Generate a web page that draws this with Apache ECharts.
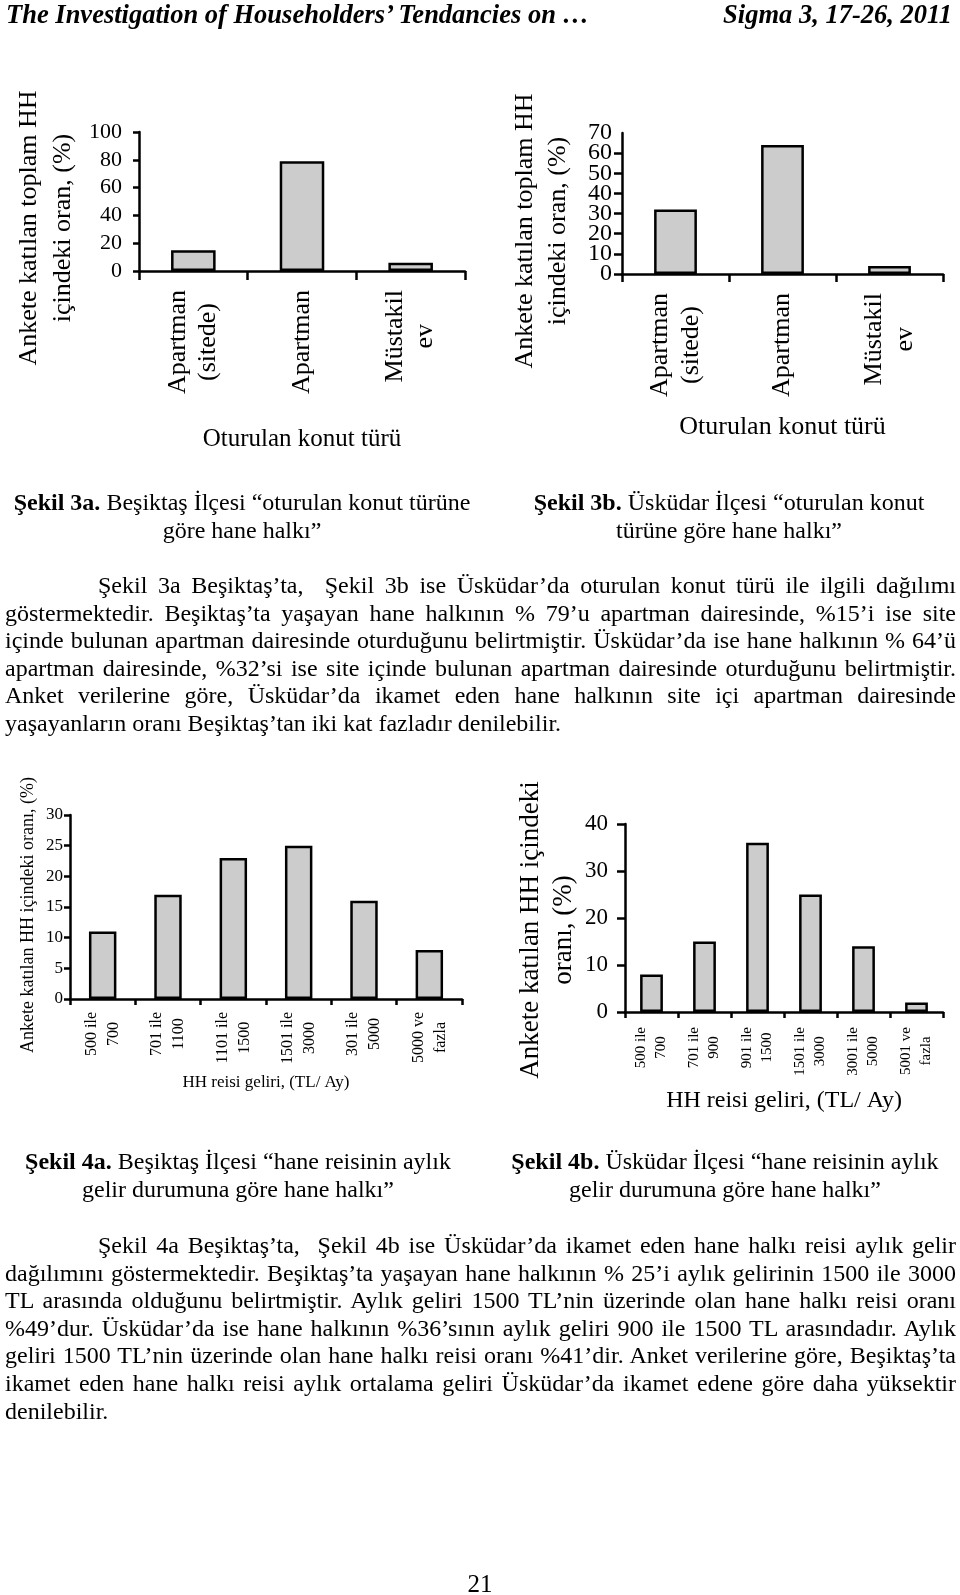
<!DOCTYPE html>
<html>
<head>
<meta charset="utf-8">
<script src="https://cdn.jsdelivr.net/npm/echarts@6.0.0/dist/echarts.min.js"></script>
<style>
  html, body { margin:0; padding:0; background:#fff; }
  body { width:960px; height:1595px; position:relative; overflow:hidden; font-family:'Liberation Serif','Times New Roman',serif; color:#000; }
  #chart { position:absolute; left:0; top:0; width:960px; height:1595px; }
  .hdr { position:absolute; top:1px; font-size:26.5px; line-height:26px; font-weight:bold; font-style:italic; white-space:nowrap; }
  .cap { position:absolute; width:520px; text-align:center; font-size:24px; line-height:28px; white-space:nowrap; }
  .para { position:absolute; left:5px; width:951px; font-size:24px; line-height:27.6px; }
  .para div { text-align:justify; text-align-last:justify; white-space:normal; }
  .para div.last { text-align:left; text-align-last:left; }
  .para div.first { margin-left:93px; }
  .pno { position:absolute; left:440px; width:80px; top:1570px; text-align:center; font-size:25px; line-height:28px; }
</style>
</head>
<body>
<div id="chart"></div>
<div class="hdr" style="left:6px;">The Investigation of Householders’ Tendancies on …</div>
<div class="hdr" style="right:8px;">Sigma 3, 17-26, 2011</div>

<div class="cap" style="left:-18px; top:488px;"><b>Şekil 3a.</b> Beşiktaş İlçesi “oturulan konut türüne<br>göre hane halkı”</div>
<div class="cap" style="left:469px; top:488px;"><b>Şekil 3b.</b> Üsküdar İlçesi “oturulan konut<br>türüne göre hane halkı”</div>

<div class="para" style="top:572px;">
  <div class="first">Şekil 3a Beşiktaş’ta,&nbsp; Şekil 3b ise Üsküdar’da oturulan konut türü ile ilgili dağılımı</div>
  <div>göstermektedir. Beşiktaş’ta yaşayan hane halkının % 79’u apartman dairesinde, %15’i ise site</div>
  <div>içinde bulunan apartman dairesinde oturduğunu belirtmiştir. Üsküdar’da ise hane halkının % 64’ü</div>
  <div>apartman dairesinde, %32’si ise site içinde bulunan apartman dairesinde oturduğunu belirtmiştir.</div>
  <div>Anket verilerine göre, Üsküdar’da ikamet eden hane halkının site içi apartman dairesinde</div>
  <div class="last">yaşayanların oranı Beşiktaş’tan iki kat fazladır denilebilir.</div>
</div>

<div class="cap" style="left:-22px; top:1147px;"><b>Şekil 4a.</b> Beşiktaş İlçesi “hane reisinin aylık<br>gelir durumuna göre hane halkı”</div>
<div class="cap" style="left:465px; top:1147px;"><b>Şekil 4b.</b> Üsküdar İlçesi “hane reisinin aylık<br>gelir durumuna göre hane halkı”</div>

<div class="para" style="top:1232px;">
  <div class="first">Şekil 4a Beşiktaş’ta,&nbsp; Şekil 4b ise Üsküdar’da ikamet eden hane halkı reisi aylık gelir</div>
  <div>dağılımını göstermektedir. Beşiktaş’ta yaşayan hane halkının % 25’i aylık gelirinin 1500 ile 3000</div>
  <div>TL arasında olduğunu belirtmiştir. Aylık geliri 1500 TL’nin üzerinde olan hane halkı reisi oranı</div>
  <div>%49’dur. Üsküdar’da ise hane halkının %36’sının aylık geliri 900 ile 1500 TL arasındadır. Aylık</div>
  <div>geliri 1500 TL’nin üzerinde olan hane halkı reisi oranı %41’dir. Anket verilerine göre, Beşiktaş’ta</div>
  <div>ikamet eden hane halkı reisi aylık ortalama geliri Üsküdar’da ikamet edene göre daha yüksektir</div>
  <div class="last">denilebilir.</div>
</div>

<div class="pno">21</div>

<script>
// ---- data ----
const cats3 = ['Apartman\n(sitede)', 'Apartman', 'Müstakil\nev'];
const vals3a = [15, 79, 6];
const vals3b = [32, 64, 4];
const cats4a = ['500 ile\n700', '701 ile\n1100', '1101 ile\n1500', '1501 ile\n3000', '301 ile\n5000', '5000 ve\nfazla'];
const vals4a = [11, 17, 23, 25, 16, 8];
const cats4b = ['500 ile\n700', '701 ile\n900', '901 ile\n1500', '1501 ile\n3000', '3001 ile\n5000', '5001 ve\nfazla'];
const vals4b = [8, 15, 36, 25, 14, 2];
const xName3 = 'Oturulan konut türü';
const yName3 = 'Ankete katılan toplam HH\niçindeki oran, (%)';
const xName4 = 'HH reisi geliri, (TL/ Ay)';
const yName4a = 'Ankete katılan HH içindeki oranı, (%)';
const yName4b = 'Ankete katılan HH içindeki\noranı, (%)';

const F = "'Liberation Serif', 'Times New Roman', serif";
function richFmt(v) { return v.split('\n').map(s => '{c|' + s + '}').join('\n'); }

function xAx(gi, data, o) {
  return {
    type: 'category', gridIndex: gi, data: data,
    name: o.name, nameLocation: 'middle', nameGap: o.nameGap, nameMoveOverlap: false,
    nameTextStyle: { color: '#000', fontFamily: F, fontSize: o.nameSize },
    axisLine: { show: true, lineStyle: { color: '#000', width: 2.5 } },
    axisTick: { show: true, length: o.tickLen, lineStyle: { color: '#000', width: 2.5 } },
    axisLabel: {
      interval: 0, rotate: 90, margin: o.margin, color: '#000', hideOverlap: false,
      fontFamily: F, fontSize: o.labelSize, lineHeight: o.lh,
      formatter: richFmt,
      rich: { c: { align: 'center', fontFamily: F, fontSize: o.labelSize, lineHeight: o.lh, color: '#000' } }
    },
    splitLine: { show: false }
  };
}
function yAx(gi, o) {
  return {
    type: 'value', gridIndex: gi, position: 'left', min: 0, max: o.max, interval: o.interval,
    name: o.name, nameLocation: 'middle', nameGap: o.nameGap, nameMoveOverlap: false,
    nameTextStyle: { color: '#000', fontFamily: F, fontSize: o.nameSize, lineHeight: o.nameLh, padding: [0, o.shift, 0, 0] },
    axisLine: { show: o.line !== false, lineStyle: { color: '#000', width: 2.5 } },
    axisTick: { show: o.line !== false, length: o.tickLen, lineStyle: { color: '#000', width: 2.5 } },
    axisLabel: { margin: o.margin, color: '#000', fontFamily: F, fontSize: o.labelSize,
                 showMinLabel: o.showMin !== undefined ? o.showMin : true,
                 showMaxLabel: o.showMax !== undefined ? o.showMax : true,
                 hideOverlap: false,
                 formatter: o.fmt || undefined },
    splitLine: { show: false }
  };
}
function barS(i, data, w) {
  return {
    type: 'bar', xAxisIndex: i, yAxisIndex: i, data: data, barWidth: w,
    itemStyle: { color: '#cccccc', borderColor: '#000', borderWidth: 2.5 },
    silent: true
  };
}
// 3b tick labels are tightly packed: split into even/odd sets on two overlaid axes
const evenFmt = v => (Math.round(v / 10) % 2 === 0 ? String(v) : '');
const oddFmt = v => (Math.round(v / 10) % 2 === 1 ? String(v) : '');

const chart = echarts.init(document.getElementById('chart'), null, { renderer: 'canvas' });
chart.setOption({
  animation: false,
  backgroundColor: 'transparent',
  grid: [
    { left: 139, top: 132, width: 326, height: 139, outerBoundsMode: 'none' },
    { left: 622, top: 133, width: 321, height: 141, outerBoundsMode: 'none' },
    { left: 70, top: 815, width: 392, height: 184, outerBoundsMode: 'none' },
    { left: 625, top: 824, width: 318, height: 188, outerBoundsMode: 'none' }
  ],
  xAxis: [
    xAx(0, cats3, { name: xName3, nameGap: 156, nameSize: 25, tickLen: 9, margin: 19, labelSize: 26, lh: 30 }),
    xAx(1, cats3, { name: xName3, nameGap: 140, nameSize: 26, tickLen: 8, margin: 19, labelSize: 26, lh: 31 }),
    xAx(2, cats4a, { name: xName4, nameGap: 75, nameSize: 17, tickLen: 6, margin: 13, labelSize: 16, lh: 22 }),
    xAx(3, cats4b, { name: xName4, nameGap: 77, nameSize: 24, tickLen: 6, margin: 15, labelSize: 15, lh: 20 })
  ],
  yAxis: [
    yAx(0, { max: 100, interval: 20, name: yName3, nameGap: 59, nameSize: 26, nameLh: 34, shift: 53, tickLen: 6, margin: 17, labelSize: 22 }),
    yAx(1, { max: 70, interval: 10, name: yName3, nameGap: 47, nameSize: 26, nameLh: 33, shift: 55, tickLen: 8, margin: 10, labelSize: 24,
             fmt: evenFmt, showMin: true, showMax: false }),
    yAx(2, { max: 30, interval: 5, name: yName4a, nameGap: 33, nameSize: 18, nameLh: 18, shift: 16, tickLen: 6, margin: 7, labelSize: 17 }),
    yAx(3, { max: 40, interval: 10, name: yName4b, nameGap: 45, nameSize: 27, nameLh: 33, shift: 24, tickLen: 8, margin: 17, labelSize: 23 }),
    yAx(1, { max: 70, interval: 10, name: '', nameGap: 0, nameSize: 26, nameLh: 33, shift: 0, tickLen: 8, margin: 10, labelSize: 24,
             fmt: oddFmt, showMin: false, showMax: true, line: false })
  ],
  series: [
    barS(0, vals3a, '41%'),
    barS(1, vals3b, '40%'),
    barS(2, vals4a, '42%'),
    barS(3, vals4b, '43%')
  ]
});
</script>
</body>
</html>
